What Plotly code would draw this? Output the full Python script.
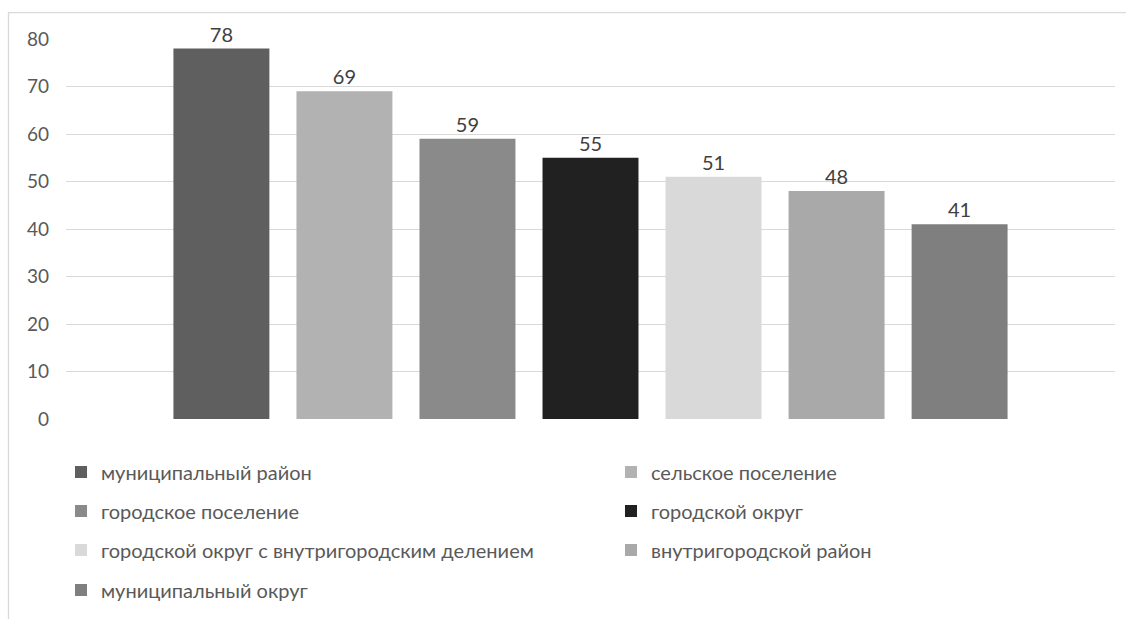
import plotly.graph_objects as go

series_names = [
    "муниципальный район",
    "сельское поселение",
    "городское поселение",
    "городской округ",
    "городской округ с внутригородским делением",
    "внутригородской район",
    "муниципальный округ",
]
values = [78, 69, 59, 55, 51, 48, 41]
colors = ["#5F5F5F", "#B2B2B2", "#8A8A8A", "#212121", "#D9D9D9", "#A9A9A9", "#7F7F7F"]
category = [""]
y_ticks = [0, 10, 20, 30, 40, 50, 60, 70, 80]

W, H = 1126, 619
ML, MR, MT, MB = 66, 11, 39, 199
pw = W - ML - MR
ph = H - MT - MB

def px_x(x):
    return (x - ML) / pw

def px_y(y):
    return (H - MB - y) / ph

FONT = "Lato"
legend_names = ["legend"] + ["legend%d" % k for k in range(2, 8)]
col_x = [61, 611]
row_y = [472, 511, 550, 590]

fig = go.Figure()
layout_legends = {}
for i, (name, v, c) in enumerate(zip(series_names, values, colors)):
    ln = legend_names[i]
    fig.add_trace(go.Bar(
        x=category, y=[v], name=name,
        marker=dict(color=c, line=dict(width=0)),
        text=[v], textposition="outside", cliponaxis=False,
        textfont=dict(family=FONT, size=20, color="#404040"),
        legend=ln,
    ))
    layout_legends[ln] = dict(
        orientation="h",
        x=px_x(col_x[i % 2]), xanchor="left",
        y=px_y(row_y[i // 2]), yanchor="middle",
        font=dict(family=FONT, size=20, color="#595959"),
        bgcolor="rgba(0,0,0,0)",
        itemclick=False, itemdoubleclick=False,
    )

fig.update_layout(
    width=W, height=H,
    margin=dict(l=ML, r=MR, t=MT, b=MB, pad=0),
    paper_bgcolor="white", plot_bgcolor="white",
    barmode="group", bargap=0.179, bargroupgap=0.22,
    showlegend=True,
    font=dict(family=FONT),
    xaxis=dict(showticklabels=False, showgrid=False, zeroline=False, showline=False,
               fixedrange=True),
    yaxis=dict(range=[0, 80], tickvals=y_ticks, showgrid=True, gridcolor="#D9D9D9",
               gridwidth=1.3, zeroline=False, showline=False,
               tickfont=dict(family=FONT, size=19, color="#595959"),
               ticklabelstandoff=16, fixedrange=True),
    shapes=[dict(type="rect", xref="paper", yref="paper",
                 x0=px_x(8.5), x1=px_x(1140), y0=px_y(12.5), y1=px_y(640),
                 line=dict(color="#D9D9D9", width=1.3), fillcolor="rgba(0,0,0,0)",
                 layer="below")],
    **layout_legends,
)

fig.write_html("out.html")
